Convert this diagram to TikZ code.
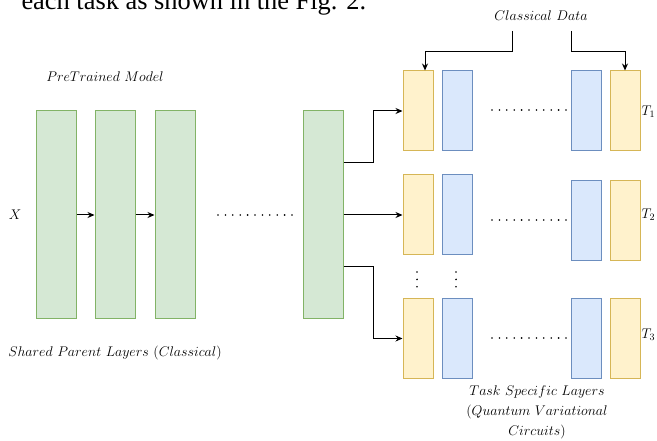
\RequirePackage{fix-cm}
\documentclass[tikz,border=0pt]{standalone}
\usepackage{fontspec}
\newfontfamily\paperfont{Liberation Serif}
\usetikzlibrary{arrows.meta, positioning}
\usepackage{amsmath}
\usepackage{xcolor}
\definecolor{greenfill}{HTML}{D5E8D4}
\definecolor{greenline}{HTML}{82B366}
\definecolor{yellowfill}{HTML}{FFF2CC}
\definecolor{yellowline}{HTML}{D6B656}
\definecolor{bluefill}{HTML}{DAE8FC}
\definecolor{blueline}{HTML}{6C8EBF}

\begin{document}
\begin{tikzpicture}[x=1pt, y=-1pt, >={Stealth[length=7pt,width=6pt]}, line width=1pt,
    shared/.style = {draw=greenline, fill=greenfill, minimum width=40pt, minimum height=208pt, inner sep=0pt},
    enc/.style = {draw=yellowline, fill=yellowfill, minimum width=30pt, minimum height=80pt, inner sep=0pt},
    var/.style = {draw=blueline, fill=bluefill, minimum width=30pt, minimum height=80pt, inner sep=0pt},
    lbl/.style = {font=\fontsize{14}{20}\selectfont},
    dotrow/.style = {line width=1.8pt, line cap=round, dash pattern=on 0pt off 7.4pt}]
      \useasboundingbox (0,0) rectangle (657,441);

      \node[anchor=base west, inner sep=0pt, font=\paperfont\fontsize{26.4}{30}\selectfont] (caption) at (21,10) {each task as shown in the Fig. 2.};

      % shared parent layers
      \node[shared] (s1) at (56,215)  {};
      \node[shared] (s2) at (115,215) {};
      \node[shared] (s3) at (175,215) {};
      \node[shared] (s4) at (323,215) {};
      \node[lbl] (x)      at (15,215)  {$X$};
      \node[lbl] (pre)    at (105,77)  {$PreTrained\ Model$};
      \node[lbl] (parent) at (115,353) {$Shared\ Parent\ Layers\ (Classical)$};
      \draw[dotrow] (218,215) -- (293,215);

      % task specific layers
      \node[enc] (e1) at (418,111)   {};
      \node[var] (v1) at (457,111)   {};
      \node[var] (w1) at (586,111)   {};
      \node[enc] (f1) at (625,111)   {};
      \node[enc] (e2) at (418,215)   {};
      \node[var] (v2) at (457,215)   {};
      \node[var] (w2) at (586,220.5) {};
      \node[enc] (f2) at (625,220.5) {};
      \node[enc] (e3) at (418,338.5) {};
      \node[var] (v3) at (457,338.5) {};
      \node[var] (w3) at (586,338.5) {};
      \node[enc] (f3) at (625,338.5) {};

      \node[lbl, anchor=west, inner sep=1pt] (t1) at (640,112) {$T_1$};
      \node[lbl, anchor=west, inner sep=1pt] (t2) at (640,215) {$T_2$};
      \node[lbl, anchor=west, inner sep=1pt] (t3) at (640,335) {$T_3$};

      \draw[dotrow] (492,110) -- (567,110);
      \draw[dotrow] (492,220) -- (567,220);
      \draw[dotrow] (492,338) -- (567,338);
      \draw[dotrow] (417,272) -- (417,290);
      \draw[dotrow] (456,272) -- (456,290);

      \node[lbl] (cd) at (541,16) {$Classical\ Data$};
      \node[lbl, align=center] (task) at (537,412) {$Task\ Specific\ Layers$\\$(Quantum\ Variational$\\$Circuits)$};
      \coordinate (cdl) at (512,31);
      \coordinate (cdr) at (571,31);

      \draw[->] (s1) -- (s2);
      \draw[->] (s2) -- (s3);
      \draw[->] ([yshift=52pt]s4.east) -- ++(30,0) |- (e1.west);
      \draw[->] (s4.east) -- (e2.west);
      \draw[->] ([yshift=-52pt]s4.east) -- ++(30,0) |- (e3.west);
      \draw[->] (cdl) -- ++(0,21) -| ([xshift=7pt]e1.north);
      \draw[->] (cdr) -- ++(0,21) -| (f1.north);
\end{tikzpicture}
\end{document}
